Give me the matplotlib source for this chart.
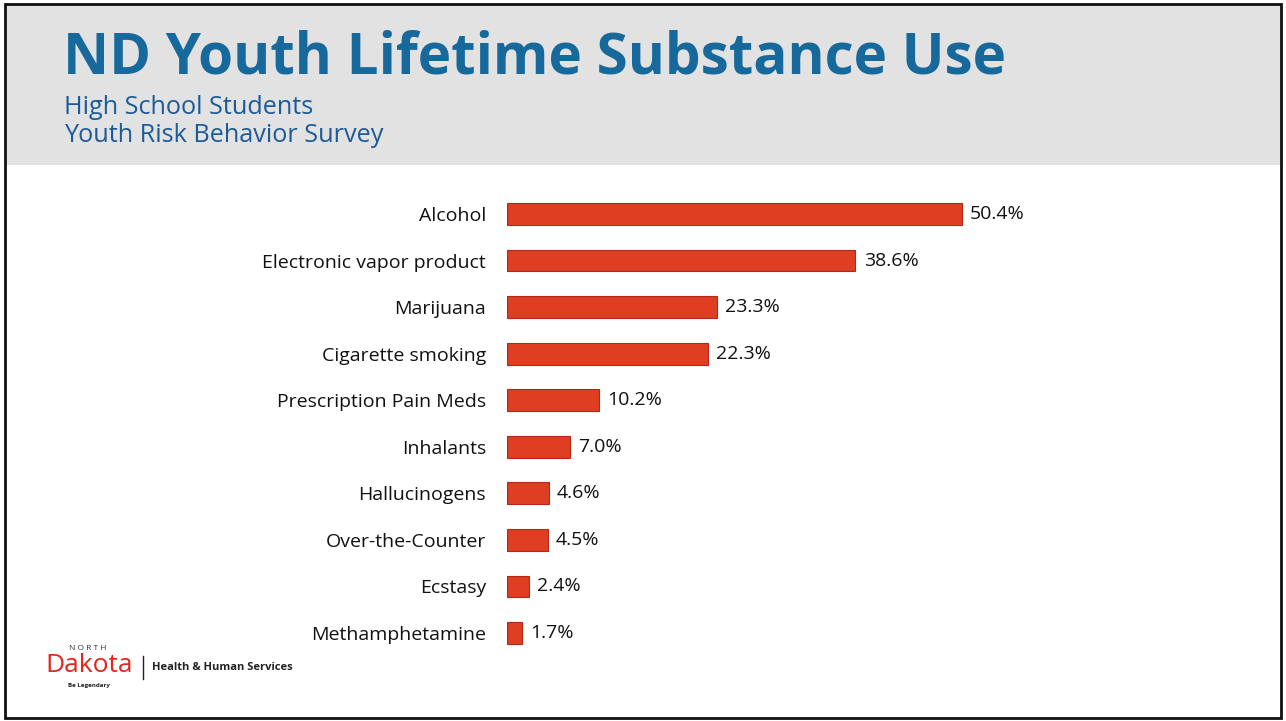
import matplotlib

matplotlib.use("Agg")
import matplotlib.pyplot as plt  # noqa: E402
from matplotlib.patches import Rectangle  # noqa: E402

categories = [
    "Alcohol",
    "Electronic vapor product",
    "Marijuana",
    "Cigarette smoking",
    "Prescription Pain Meds",
    "Inhalants",
    "Hallucinogens",
    "Over-the-Counter",
    "Ecstasy",
    "Methamphetamine",
]
percent = [50.4, 38.6, 23.3, 22.3, 10.2, 7.0, 4.6, 4.5, 2.4, 1.7]

title = "ND Youth Lifetime Substance Use"
subtitle = ["High School Students", "Youth Risk Behavior Survey"]

W, H = 1286, 721
BLUE = "#17699c"
BAR = "#de3f23"

plt.rcParams["font.family"] = ["Open Sans", "DejaVu Sans"]

fig = plt.figure(figsize=(W / 100, H / 100), dpi=100)
fig.patch.set_facecolor("white")

# grey header band inside the frame
fig.add_artist(Rectangle((5 / W, 1 - 165 / H), 1 - 10 / W, 162 / H, transform=fig.transFigure,
                         facecolor="#e2e2e2", edgecolor="none", zorder=0))
# slide frame
fig.add_artist(Rectangle((5 / W, 3 / H), 1 - 10 / W, 1 - 7 / H, transform=fig.transFigure,
                         facecolor="none", edgecolor="#111111", linewidth=2, zorder=5))

fig.text(63 / W, 1 - 58 / H, title, fontsize=40.8, fontweight="bold", color=BLUE,
         va="center", ha="left")
fig.text(64 / W, 1 - 107 / H, subtitle[0], fontsize=18.2, color="#1d5b98",
         va="center", ha="left")
fig.text(64 / W, 1 - 135 / H, subtitle[1], fontsize=18.2, color="#1d5b98",
         va="center", ha="left")

# bar panel: 10 rows of ~46.6 px starting at y=190.7
px_per_unit = 455 / 50.4
ax_w = 700
top, bottom = 190.7, 656.3
ax = fig.add_axes([507 / W, 1 - bottom / H, ax_w / W, (bottom - top) / H])
ax.set_xlim(0, ax_w / px_per_unit)
ax.set_ylim(len(categories) - 0.5, -0.5)
ypos = list(range(len(categories)))
ax.barh(ypos, percent, height=0.47, color=BAR, edgecolor="#b5271a", linewidth=0.8)
for y, v in zip(ypos, percent):
    ax.text(v + 0.9, y, f"{v:.1f}%", va="center", ha="left", fontsize=14, color="#111111")
ax.set_yticks(ypos)
ax.set_yticklabels(categories, fontsize=14, color="#111111")
ax.tick_params(axis="y", length=0, pad=15)
ax.set_xticks([])
for s in ax.spines.values():
    s.set_visible(False)
ax.patch.set_alpha(0)

# footer logo
fig.text(88 / W, 1 - 649 / H, "N O R T H", fontsize=6, color="#333333", ha="center", va="center")
fig.text(89 / W, 1 - 665 / H, "Dakota", fontsize=19, color="#e2261c", ha="center", va="center")
fig.text(89 / W, 1 - 686 / H, "Be Legendary", fontsize=4.5, fontweight="bold", color="#222222",
         ha="center", va="center")
fig.add_artist(plt.Line2D([143 / W, 143 / W], [1 - 656 / H, 1 - 679 / H],
                          transform=fig.transFigure, color="#222222", linewidth=1))
fig.text(152 / W, 1 - 668 / H, "Health & Human Services", fontsize=8, fontweight="bold",
         color="#222222", ha="left", va="center")

fig.savefig("out.png", dpi=100)
plt.close(fig)
